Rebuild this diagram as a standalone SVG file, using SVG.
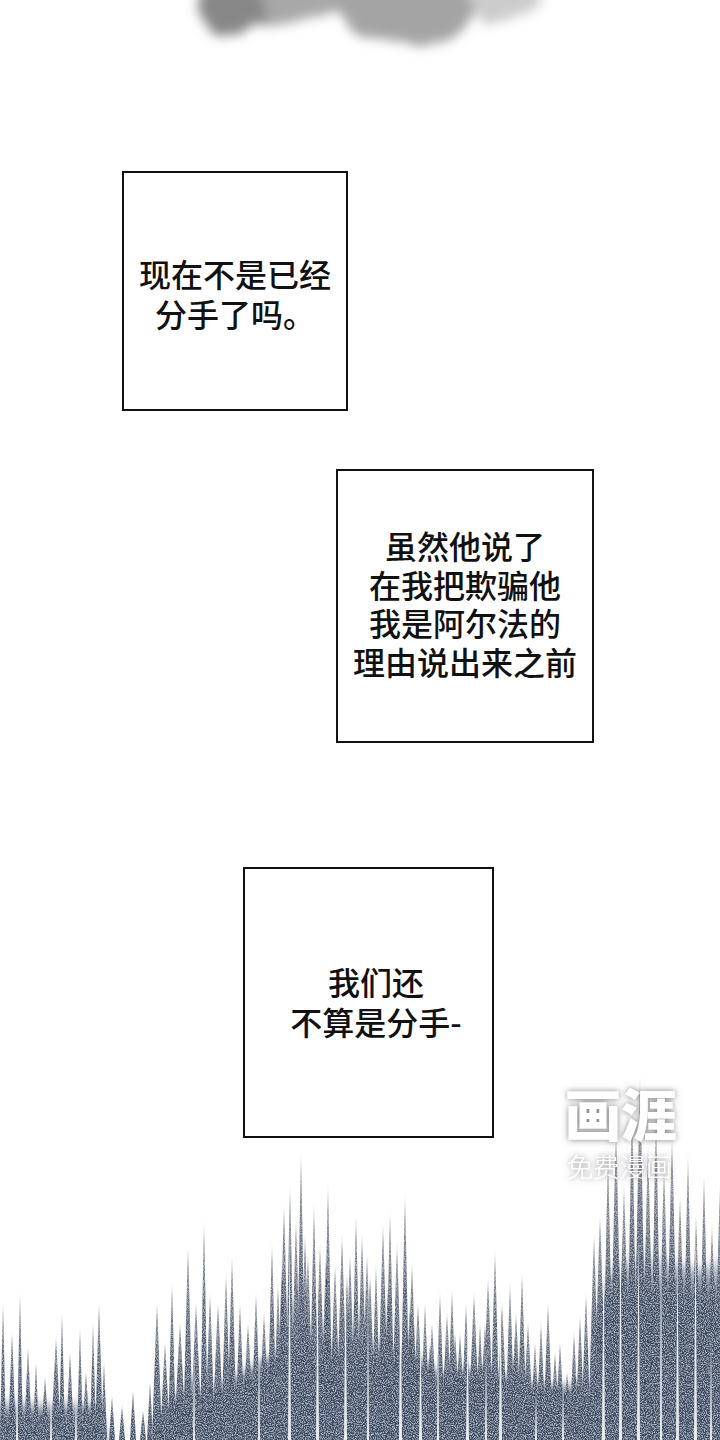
<svg xmlns="http://www.w3.org/2000/svg" width="720" height="1440" viewBox="0 0 720 1440">
<defs>
<style>
.box{fill:#fff;stroke:#111;stroke-width:2}
.t{font-family:"Noto Sans CJK SC","Noto Sans CJK JP",sans-serif;font-size:32px;font-weight:500;fill:#111;text-anchor:middle}
.wm{font-family:"Noto Sans CJK SC",sans-serif;fill:#fff}
.sp{fill:url(#spk)}
.ws{fill:#fff;fill-opacity:0.92}
</style>
<linearGradient id="spk" x1="0" y1="0" x2="0" y2="1">
<stop offset="0" stop-color="#2a3142" stop-opacity="0"/>
<stop offset="0.12" stop-color="#2a3142" stop-opacity="0.55"/>
<stop offset="0.45" stop-color="#3a465b" stop-opacity="0.88"/>
<stop offset="1" stop-color="#3e4b62" stop-opacity="1"/>
</linearGradient>
<linearGradient id="mass" x1="0" y1="0" x2="0" y2="1">
<stop offset="0" stop-color="#3e4b62" stop-opacity="0"/>
<stop offset="0.2" stop-color="#3e4b62" stop-opacity="0.9"/>
<stop offset="0.45" stop-color="#3a465e" stop-opacity="1"/>
<stop offset="1" stop-color="#3a465e" stop-opacity="1"/>
</linearGradient>
<filter id="soft" filterUnits="userSpaceOnUse" x="-20" y="1000" width="760" height="500">
<feGaussianBlur stdDeviation="3 6"/>
</filter>
<filter id="grain" filterUnits="userSpaceOnUse" x="0" y="1040" width="720" height="400">
<feTurbulence type="fractalNoise" baseFrequency="0.9" numOctaves="2" seed="7" result="n"/>
<feColorMatrix in="n" type="matrix" values="0 0 0 0 0.6  0 0 0 0 0.67  0 0 0 0 0.78  2.4 0 0 0 -1.05" result="sp"/>
<feComposite in="sp" in2="SourceGraphic" operator="in" result="sp2"/>
<feMerge><feMergeNode in="SourceGraphic"/><feMergeNode in="sp2"/></feMerge>
</filter>
<filter id="smoke" filterUnits="userSpaceOnUse" x="100" y="-80" width="540" height="200">
<feTurbulence type="fractalNoise" baseFrequency="0.03" numOctaves="3" seed="4" result="t"/>
<feDisplacementMap in="SourceGraphic" in2="t" scale="24" xChannelSelector="R" yChannelSelector="G" result="d"/>
<feGaussianBlur in="d" stdDeviation="6"/>
</filter>
<filter id="wmshadow" filterUnits="userSpaceOnUse" x="540" y="1060" width="180" height="140">
<feGaussianBlur in="SourceAlpha" stdDeviation="3" result="b"/>
<feFlood flood-color="#6a6a6a" flood-opacity="0.85"/>
<feComposite in2="b" operator="in" result="s"/>
<feMerge><feMergeNode in="s"/><feMergeNode in="SourceGraphic"/></feMerge>
</filter>
</defs>
<rect width="720" height="1440" fill="#fff"/>

<g id="smoke-top" filter="url(#smoke)">
<ellipse cx="275" cy="-4" rx="78" ry="28" fill="#a8a8a8"/>
<ellipse cx="230" cy="10" rx="34" ry="26" fill="#878787"/>
<ellipse cx="405" cy="6" rx="72" ry="38" fill="#a4a4a4"/>
<ellipse cx="505" cy="0" rx="36" ry="26" fill="#cccccc"/>
</g>

<g id="spikes" filter="url(#grain)">
<g filter="url(#soft)">
<polygon fill="url(#mass)" points="0,1470 0,1400 40,1405 100,1402 110,1470"/>
<polygon fill="url(#mass)" points="150,1470 170,1400 220,1390 280,1350 330,1340 400,1345 440,1375 480,1370 530,1385 590,1390 600,1470"/>
<polygon fill="url(#mass)" points="592,1470 596,1320 612,1270 640,1250 670,1260 700,1270 720,1260 730,1470"/>
</g>
<g class="sp">
<polygon points="0,1440 3,1300 6,1440"/><polygon points="8,1440 12,1330 16,1440"/><polygon points="17,1440 20,1290 23,1440"/><polygon points="24,1440 28,1345 32,1440"/><polygon points="33,1440 36,1360 39,1440"/><polygon points="41,1440 45,1375 49,1440"/><polygon points="51,1440 56,1335 61,1440"/><polygon points="59,1440 62,1310 65,1440"/><polygon points="66,1440 70,1350 74,1440"/><polygon points="77,1440 80,1325 83,1440"/><polygon points="82,1440 86,1370 90,1440"/><polygon points="90,1440 93,1320 96,1440"/><polygon points="95,1440 99,1300 103,1440"/><polygon points="101,1440 104,1360 107,1440"/>
<polygon points="109,1440 112,1395 115,1440"/><polygon points="119,1440 122,1405 125,1440"/><polygon points="130,1440 133,1390 136,1440"/><polygon points="140,1440 143,1410 146,1440"/><polygon points="147,1440 150,1380 153,1440"/>
<polygon points="152,1440 157,1300 162,1440"/><polygon points="160,1440 165,1340 170,1440"/><polygon points="168,1440 172,1280 176,1440"/><polygon points="174,1440 180,1320 186,1440"/><polygon points="183,1440 188,1243 193,1440"/><polygon points="190,1440 196,1300 202,1440"/><polygon points="200,1440 204,1217 208,1440"/><polygon points="205,1440 210,1290 215,1440"/>
<polygon points="212,1440 218,1300 224,1440"/><polygon points="221,1440 226,1270 231,1440"/><polygon points="227,1440 232,1253 237,1440"/><polygon points="235,1440 240,1300 245,1440"/><polygon points="242,1440 248,1320 254,1440"/><polygon points="251,1440 256,1290 261,1440"/><polygon points="258,1440 264,1310 270,1440"/><polygon points="267,1440 272,1240 277,1440"/><polygon points="273,1440 278,1280 283,1440"/>
<polygon points="278,1440 284,1200 290,1440"/><polygon points="285,1440 290,1180 295,1440"/><polygon points="290,1440 296,1215 302,1440"/><polygon points="296,1440 301,1147 306,1440"/><polygon points="302,1440 308,1250 314,1440"/><polygon points="309,1440 314,1200 319,1440"/><polygon points="314,1440 320,1240 326,1440"/><polygon points="323,1440 328,1180 333,1440"/><polygon points="329,1440 335,1260 341,1440"/><polygon points="336,1440 342,1230 348,1440"/><polygon points="344,1440 350,1250 356,1440"/><polygon points="351,1440 356,1210 361,1440"/><polygon points="356,1440 362,1230 368,1440"/><polygon points="364,1440 370,1270 376,1440"/><polygon points="371,1440 376,1260 381,1440"/><polygon points="377,1440 383,1220 389,1440"/><polygon points="385,1440 390,1207 395,1440"/><polygon points="391,1440 397,1240 403,1440"/><polygon points="400,1440 405,1190 410,1440"/><polygon points="406,1440 412,1260 418,1440"/><polygon points="412,1440 418,1300 424,1440"/>
<polygon points="276,1440 282,1260 288,1440"/><polygon points="299,1440 305,1230 311,1440"/><polygon points="320,1440 326,1250 332,1440"/><polygon points="341,1440 347,1270 353,1440"/><polygon points="361,1440 367,1250 373,1440"/><polygon points="382,1440 388,1280 394,1440"/><polygon points="404,1440 410,1300 416,1440"/><polygon points="424,1440 430,1340 436,1440"/><polygon points="449,1440 455,1330 461,1440"/><polygon points="479,1440 485,1320 491,1440"/><polygon points="509,1440 515,1340 521,1440"/>
<polygon points="420,1440 425,1300 430,1440"/><polygon points="426,1440 432,1320 438,1440"/><polygon points="435,1440 440,1290 445,1440"/><polygon points="441,1440 447,1310 453,1440"/><polygon points="447,1440 452,1287 457,1440"/><polygon points="454,1440 460,1330 466,1440"/><polygon points="461,1440 466,1300 471,1440"/>
<polygon points="468,1440 474,1290 480,1440"/><polygon points="475,1440 480,1320 485,1440"/><polygon points="482,1440 488,1275 494,1440"/><polygon points="490,1440 495,1247 500,1440"/><polygon points="496,1440 502,1300 508,1440"/><polygon points="505,1440 510,1280 515,1440"/><polygon points="510,1440 516,1310 522,1440"/><polygon points="517,1440 522,1270 527,1440"/><polygon points="522,1440 528,1320 534,1440"/>
<polygon points="530,1440 535,1340 540,1440"/><polygon points="536,1440 541,1320 546,1440"/><polygon points="543,1440 548,1300 553,1440"/><polygon points="550,1440 555,1350 560,1440"/><polygon points="555,1440 560,1340 565,1440"/><polygon points="562,1440 567,1370 572,1440"/><polygon points="569,1440 574,1330 579,1440"/><polygon points="575,1440 580,1313 585,1440"/><polygon points="581,1440 586,1290 591,1440"/>
<polygon points="588,1440 594,1230 600,1440"/><polygon points="593,1440 600,1210 607,1440"/><polygon points="602,1440 608,1150 614,1440"/><polygon points="609,1440 616,1120 623,1440"/><polygon points="617,1440 624,1180 631,1440"/><polygon points="626,1440 632,1100 638,1440"/><polygon points="633,1440 640,1070 647,1440"/><polygon points="641,1440 648,1140 655,1440"/><polygon points="650,1440 656,1110 662,1440"/><polygon points="657,1440 664,1160 671,1440"/><polygon points="665,1440 672,1130 679,1440"/><polygon points="673,1440 680,1190 687,1440"/><polygon points="682,1440 688,1150 694,1440"/><polygon points="689,1440 696,1210 703,1440"/><polygon points="698,1440 704,1170 710,1440"/><polygon points="705,1440 712,1220 719,1440"/><polygon points="713,1440 720,1180 727,1440"/>
</g>
<g class="ws">
<polygon points="16,1440 17,1360 18,1440"/><polygon points="50,1440 51,1380 52,1440"/><polygon points="75,1440 76,1390 77,1440"/><polygon points="193,1440 194,1340 195,1440"/><polygon points="258,1440 259,1320 260,1440"/>
<polygon points="288,1440 289.5,1230 291,1440"/><polygon points="316,1440 317.5,1260 319,1440"/><polygon points="344,1440 345.5,1250 347,1440"/><polygon points="367,1440 368,1290 369,1440"/><polygon points="399,1440 400.5,1230 402,1440"/><polygon points="419,1440 420.5,1330 422,1440"/><polygon points="437,1440 438,1300 439,1440"/><polygon points="466,1440 467.5,1320 469,1440"/><polygon points="485,1440 486,1340 487,1440"/><polygon points="499,1440 500.5,1270 502,1440"/><polygon points="535,1440 536,1390 537,1440"/><polygon points="562,1440 563,1380 564,1440"/>
<polygon points="602,1440 603.5,1240 605,1440"/><polygon points="619,1440 620.5,1200 622,1440"/><polygon points="637,1440 638.5,1230 640,1440"/><polygon points="660,1440 661,1180 662,1440"/><polygon points="676,1440 677.5,1250 679,1440"/><polygon points="694,1440 695.5,1220 697,1440"/><polygon points="710,1440 711,1330 712,1440"/>
</g>
</g>

<g id="box1">
<rect class="box" x="123" y="172" width="224" height="238"/>
<text class="t" x="235" y="287">现在不是已经</text>
<text class="t" x="235" y="327">分手了吗。</text>
</g>

<g id="box2">
<rect class="box" x="337" y="470" width="256" height="272"/>
<text class="t" x="465" y="559">虽然他说了</text>
<text class="t" x="465" y="598">在我把欺骗他</text>
<text class="t" x="465" y="636">我是阿尔法的</text>
<text class="t" x="465" y="675">理由说出来之前</text>
</g>

<g id="box3">
<rect class="box" x="244" y="868" width="249" height="269"/>
<text class="t" x="376" y="995">我们还</text>
<text class="t" x="376" y="1035">不算是分手-</text>
</g>

<g id="watermark" filter="url(#wmshadow)">
<text class="wm" x="565" y="1136" font-size="56" font-weight="900" textLength="112" lengthAdjust="spacingAndGlyphs">画涯</text>
<text class="wm" x="567" y="1177" font-size="26" font-weight="300" textLength="105" lengthAdjust="spacingAndGlyphs">免费漫画</text>
</g>
</svg>
